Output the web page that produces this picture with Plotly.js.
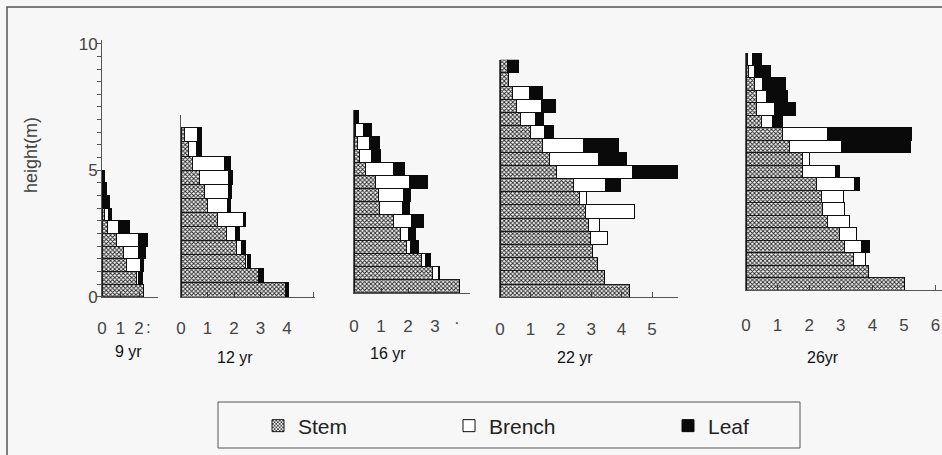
<!DOCTYPE html>
<html><head><meta charset="utf-8">
<script src="https://cdn.plot.ly/plotly-3.0.1.min.js"></script>
<style>html,body{margin:0;padding:0;background:#f7f7f7;} #chart{width:942px;height:455px;}</style>
</head><body><div id="chart"></div>
<script>
// ---- data (height class midpoints in m, biomass per class) ----
const panelNames = ['9 yr', '12 yr', '16 yr', '22 yr', '26yr'];
const seriesNames = ['Stem', 'Brench', 'Leaf'];

const height9 = [0.25, 0.75, 1.25, 1.75, 2.25, 2.75, 3.25, 3.75, 4.25, 4.75];
const stem9   = [2.26, 1.89, 1.33, 1.15, 0.78, 0.31, 0.13, 0.05, 0.02, 0.01];
const branch9 = [0, 0.09, 0.74, 0.83, 1.2, 0.56, 0.24, 0, 0, 0];
const leaf9   = [0, 0.19, 0.19, 0.37, 0.46, 0.61, 0.13, 0.33, 0.22, 0.13];

const height12 = [0.25, 0.75, 1.25, 1.75, 2.25, 2.75, 3.25, 3.75, 4.25, 4.75, 5.25, 5.75];
const stem12   = [3.95, 2.92, 2.45, 2.08, 1.72, 1.38, 1.0, 0.88, 0.68, 0.42, 0.3, 0.15];
const branch12 = [0, 0, 0.06, 0.21, 0.35, 0.97, 0.77, 0.9, 1.1, 1.23, 0.3, 0.48];
const leaf12   = [0.12, 0.18, 0.13, 0.13, 0.15, 0.1, 0.1, 0.12, 0.16, 0.2, 0.17, 0.15];

const height16 = [0.25, 0.75, 1.25, 1.75, 2.25, 2.75, 3.25, 3.75, 4.25, 4.75, 5.25, 5.75, 6.25, 6.75];
const stem16   = [3.89, 2.91, 2.5, 1.95, 1.74, 1.46, 0.94, 0.9, 0.81, 0.41, 0.22, 0.12, 0.06, 0];
const branch16 = [0, 0.21, 0.16, 0.16, 0.27, 0.68, 0.86, 0.93, 1.23, 1.05, 0.43, 0.44, 0.28, 0];
const leaf16   = [0, 0.04, 0.17, 0.27, 0.25, 0.43, 0.27, 0.27, 0.67, 0.4, 0.33, 0.37, 0.31, 0.15];

const height22 = [0.25, 0.75, 1.25, 1.75, 2.25, 2.75, 3.25, 3.75, 4.25, 4.75, 5.25, 5.75, 6.25, 6.75, 7.25, 7.75, 8.25, 8.75];
const stem22   = [4.25, 3.45, 3.2, 3.05, 2.99, 2.9, 2.8, 2.61, 2.41, 1.86, 1.62, 1.4, 0.99, 0.68, 0.53, 0.42, 0.27, 0.24];
const branch22 = [0, 0, 0, 0, 0.54, 0.38, 1.62, 0.22, 1.07, 2.5, 1.61, 1.36, 0.49, 0.5, 0.84, 0.55, 0, 0];
const leaf22   = [0, 0, 0, 0, 0, 0, 0, 0, 0.48, 1.58, 0.93, 1.13, 0.27, 0.26, 0.46, 0.44, 0, 0.38];

const height26 = [0.25, 0.75, 1.25, 1.75, 2.25, 2.75, 3.25, 3.75, 4.25, 4.75, 5.25, 5.75, 6.25, 6.75, 7.25, 7.75, 8.25, 8.75, 9.25];
const stem26   = [5.03, 3.89, 3.41, 3.12, 2.96, 2.59, 2.43, 2.4, 2.24, 1.78, 1.78, 1.38, 1.16, 0.48, 0.32, 0.32, 0.26, 0.08, 0.05];
const branch26 = [0, 0, 0.38, 0.53, 0.53, 0.67, 0.69, 0.7, 1.2, 1.06, 0.23, 1.64, 1.43, 0.35, 0.58, 0.33, 0.26, 0.18, 0.14];
const leaf26   = [0, 0, 0, 0.26, 0, 0, 0, 0, 0.16, 0.13, 0, 2.17, 2.65, 0.32, 0.67, 0.67, 0.74, 0.53, 0.29];

const xTicks9  = [0, 1, 2];
const xTicks12 = [0, 1, 2, 3, 4, 5];
const xTickText12 = ['0', '1', '2', '3', '4', ''];
const xTicks16 = [0, 1, 2, 3];
const xTicks22 = [0, 1, 2, 3, 4, 5];
const xTicks26 = [0, 1, 2, 3, 4, 5, 6];
const yTicks9  = [0, 5, 10];

// ---- layout geometry (pixels) ----
const W = 942, H = 455;
const geom = [
  {x0: 102, x1: 158, ppu: 18.5, yb: 296.7, yt: 40,  ppm: 25.3, lab: [128, 351], sd: 16},
  {x0: 181, x1: 315, ppu: 26.5, yb: 297,   yt: 115, ppm: 28.2, lab: [235, 357], sd: 16},
  {x0: 354, x1: 470, ppu: 27,   yb: 292.7, yt: 110, ppm: 26.1, lab: [388, 353], sd: 18},
  {x0: 500, x1: 678, ppu: 30.4, yb: 297.3, yt: 59.7, ppm: 26.4, lab: [575, 357], sd: 16},
  {x0: 746, x1: 942, ppu: 31.6, yb: 290,   yt: 53,  ppm: 24.95, lab: [823, 357], sd: 20}
];

const panels = [
  {h: height9,  s: stem9,  b: branch9,  l: leaf9,  tv: xTicks9,  tt: xTicks9.map(String)},
  {h: height12, s: stem12, b: branch12, l: leaf12, tv: xTicks12, tt: xTickText12},
  {h: height16, s: stem16, b: branch16, l: leaf16, tv: xTicks16, tt: xTicks16.map(String)},
  {h: height22, s: stem22, b: branch22, l: leaf22, tv: xTicks22, tt: xTicks22.map(String)},
  {h: height26, s: stem26, b: branch26, l: leaf26, tv: xTicks26, tt: xTicks26.map(String)}
];

const FONT = 'Liberation Sans, Arial, sans-serif';
const stemMarker = {color: '#8e8e8e', line: {color: '#1a1a1a', width: 1},
  pattern: {shape: 'x', fgcolor: '#222222', size: 3, solidity: 0.5}};
const branchMarker = {color: '#ffffff', line: {color: '#111', width: 1}};
const leafMarker = {color: '#0a0a0a', line: {color: '#0a0a0a', width: 1}};

const traces = [];
const layout = {
  width: W, height: H, margin: {l: 0, r: 0, t: 0, b: 0},
  paper_bgcolor: '#f7f7f7', plot_bgcolor: 'rgba(0,0,0,0)',
  barmode: 'stack', bargap: 0, showlegend: true,
  font: {family: FONT, color: '#333'},
  annotations: [], shapes: []
};

panels.forEach((p, i) => {
  const g = geom[i];
  const n = i === 0 ? '' : String(i + 1);
  const xa = 'x' + n, ya = 'y' + n;
  const common = {type: 'bar', orientation: 'h', y: p.h, width: 0.5, xaxis: xa, yaxis: ya, hoverinfo: 'skip'};
  traces.push(Object.assign({}, common, {x: p.s, name: seriesNames[0], marker: stemMarker,
    legend: 'legend', showlegend: i === 0, legendgroup: 'stem'}));
  traces.push(Object.assign({}, common, {x: p.b, name: seriesNames[1], marker: branchMarker,
    legend: 'legend2', showlegend: i === 0, legendgroup: 'branch'}));
  traces.push(Object.assign({}, common, {x: p.l, name: seriesNames[2], marker: leafMarker,
    legend: 'legend3', showlegend: i === 0, legendgroup: 'leaf'}));

  layout['xaxis' + n] = {
    domain: [g.x0 / W, g.x1 / W], range: [0, (g.x1 - g.x0) / g.ppu], anchor: ya,
    showline: true, linecolor: '#555', linewidth: 1, ticks: 'inside', ticklen: 5, tickcolor: '#555',
    tickvals: p.tv, ticktext: p.tt, tickfont: {family: FONT, size: 17, color: '#444'},
    ticklabelstandoff: g.sd, showgrid: false, zeroline: false, layer: 'below traces', fixedrange: true
  };
  const yaxis = {
    domain: [(H - g.yb) / H, (H - g.yt) / H], range: [0, (g.yb - g.yt) / g.ppm], anchor: xa,
    showline: true, linecolor: '#555', linewidth: 1, showgrid: false, zeroline: false, fixedrange: true
  };
  if (i === 0) {
    Object.assign(yaxis, {ticks: 'outside', ticklen: 4, tickcolor: '#555', tickvals: yTicks9,
      tickfont: {family: FONT, size: 17, color: '#444'}, ticklabelstandoff: -4,
      minor: {dtick: 0.5, ticks: 'outside', ticklen: 4, tickcolor: '#555', showgrid: false}});
  } else {
    Object.assign(yaxis, {ticks: '', showticklabels: false});
  }
  layout['yaxis' + n] = yaxis;

  layout.annotations.push({text: panelNames[i], xref: 'paper', yref: 'paper',
    x: g.lab[0] / W, y: (H - g.lab[1]) / H, xanchor: 'center', yanchor: 'middle', showarrow: false,
    font: {family: FONT, size: 16, color: '#111'}});
});

// partially hidden tick-label fragments at panel edges
layout.annotations.push({text: ':', xref: 'paper', yref: 'paper', x: 148 / W, y: (H - 327) / H,
  xanchor: 'center', yanchor: 'middle', showarrow: false, font: {family: FONT, size: 17, color: '#444'}});
layout.annotations.push({text: '·', xref: 'paper', yref: 'paper', x: 457 / W, y: (H - 323) / H,
  xanchor: 'center', yanchor: 'middle', showarrow: false, font: {family: FONT, size: 17, color: '#444'}});
// y axis title
layout.annotations.push({text: 'height(m)', xref: 'paper', yref: 'paper', x: 31 / W, y: (H - 155) / H,
  xanchor: 'center', yanchor: 'middle', textangle: -90, showarrow: false,
  font: {family: FONT, size: 18, color: '#444'}});

// legends
const legBase = {yanchor: 'middle', xanchor: 'left', y: (H - 426) / H, bgcolor: 'rgba(0,0,0,0)',
  borderwidth: 0, font: {family: FONT, size: 21, color: '#222'}};
layout.legend  = Object.assign({}, legBase, {x: 258 / W});
layout.legend2 = Object.assign({}, legBase, {x: 449 / W});
layout.legend3 = Object.assign({}, legBase, {x: 668 / W});

// frame and legend box
layout.shapes.push({type: 'rect', xref: 'paper', yref: 'paper', x0: 7 / W, x1: 1.02, y0: -0.05, y1: (H - 7) / H,
  line: {color: '#555', width: 1.5}});
layout.shapes.push({type: 'rect', xref: 'paper', yref: 'paper', x0: 218 / W, x1: 800 / W, y0: (H - 448) / H, y1: (H - 402) / H,
  line: {color: '#555', width: 1}});

Plotly.newPlot('chart', traces, layout, {displayModeBar: false, staticPlot: true});
</script>
</body></html>
